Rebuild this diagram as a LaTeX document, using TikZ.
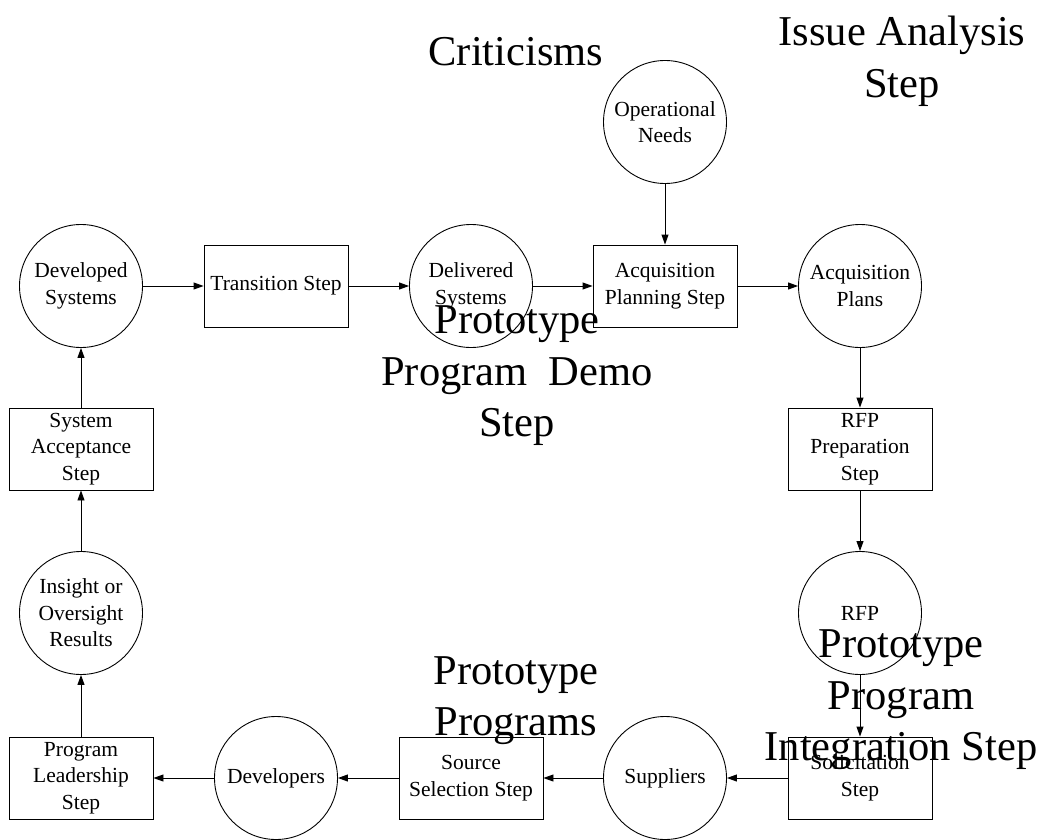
\documentclass[tikz,border=0pt]{standalone}
\usepackage{fontspec}
\setmainfont{Liberation Serif}
\usetikzlibrary{arrows.meta}
\tikzset{
  proc/.style={draw=black, line width=0.9pt, rectangle, minimum width=144pt, minimum height=82pt, inner sep=0pt, align=center, font=\fontsize{21.5}{26.5}\selectfont},
  store/.style={draw=black, line width=0.9pt, circle, minimum size=123pt, inner sep=0pt, align=center, font=\fontsize{21.5}{26.5}\selectfont},
  big/.style={align=center, inner sep=0pt, font=\fontsize{42.5}{51.5}\selectfont},
  arr/.style={draw=black, line width=0.9pt, -{Triangle[length=10pt,width=7pt]}}
}
\begin{document}
\begin{tikzpicture}[x=1pt,y=-1pt]
\useasboundingbox (0,0) rectangle (1047,840);
% row 1
\node[store] (opneeds) at (665,122) {Operational\\Needs};
% row 2
\node[store] (devsys) at (81,286) {Developed\\Systems};
\node[proc] (trans) at (276,286) {Transition Step};
\node[store] (delsys) at (471,286) {Delivered\\Systems};
\node[proc] (acqplan) at (665,286) {Acquisition\\Planning Step};
\node[store] (acqplans) at (860,286) {Acquisition\\Plans};
% row 3
\node[proc] (sysacc) at (81,449) {System\\Acceptance\\Step};
\node[proc] (rfpprep) at (860,449) {RFP\\Preparation\\Step};
% row 4
\node[store] (insight) at (81,613) {Insight or\\Oversight\\Results};
\node[store] (rfp) at (860,613) {RFP};
% row 5
\node[proc] (proglead) at (81,778) {Program\\Leadership\\Step};
\node[store] (developers) at (276,778) {Developers};
\node[proc] (srcsel) at (471,778) {Source\\Selection Step};
\node[store] (suppliers) at (665,778) {Suppliers};
\node[proc] (solic) at (860,778) {Solicitation\\Step};
% connectors
\draw[arr] (devsys) -- (trans);
\draw[arr] (trans) -- (delsys);
\draw[arr] (delsys) -- (acqplan);
\draw[arr] (opneeds) -- (acqplan);
\draw[arr] (acqplan) -- (acqplans);
\draw[arr] (acqplans) -- (rfpprep);
\draw[arr] (rfpprep) -- (rfp);
\draw[arr] (rfp) -- (solic);
\draw[arr] (solic) -- (suppliers);
\draw[arr] (suppliers) -- (srcsel);
\draw[arr] (srcsel) -- (developers);
\draw[arr] (developers) -- (proglead);
\draw[arr] (proglead) -- (insight);
\draw[arr] (insight) -- (sysacc);
\draw[arr] (sysacc) -- (devsys);
% large labels
\node[big] (crit) at (516,52) {Criticisms};
\node[big] (issue) at (902,61.5) {Issue Analysis\\Step};
\node[big] (demo) at (517,376) {Prototype\\Program\ \ Demo\\Step};
\node[big] (progs) at (516,700.5) {Prototype\\Programs};
\node[big] (integ) at (901,700) {Prototype\\Program\\Integration Step};
\end{tikzpicture}
\end{document}
